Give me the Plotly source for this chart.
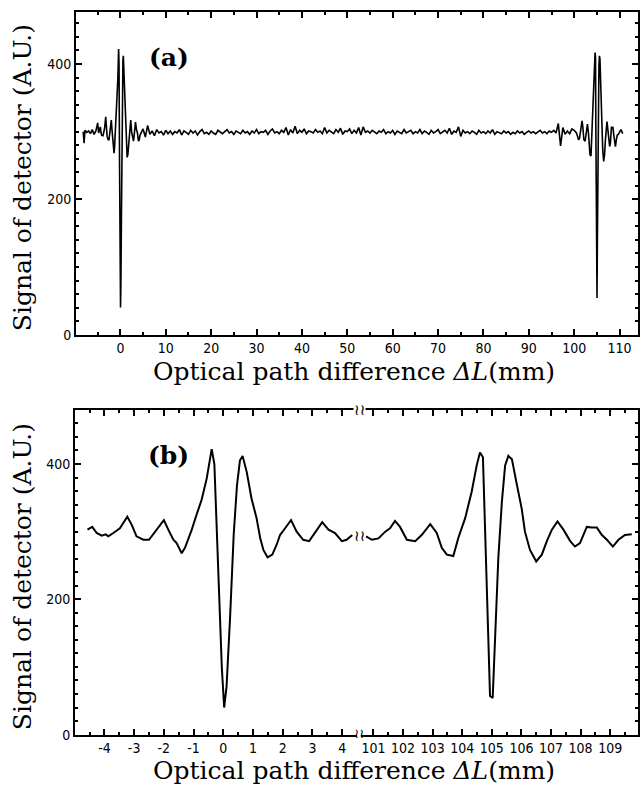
import numpy as np
import plotly.graph_objects as go

# ---------------- data ----------------
# zoomed interferogram around dL = 0 (panel b, left part)
zoom_left_x = [-4.57, -4.41, -4.26, -4.09, -3.96, -3.87, -3.70, -3.48, -3.23, -3.08,
               -2.92, -2.69, -2.50, -2.30, -2.00, -1.85, -1.68, -1.57, -1.40, -1.29,
               -1.06, -0.90, -0.73, -0.56, -0.39, -0.30, -0.17, -0.05, 0.03, 0.11,
               0.23, 0.35, 0.46, 0.56, 0.65, 0.79, 0.95, 1.12, 1.24, 1.35,
               1.49, 1.65, 1.80, 1.91, 2.08, 2.28, 2.47, 2.69, 2.89, 3.09,
               3.33, 3.54, 3.76, 3.99, 4.15, 4.34]
zoom_left_y = [303, 307, 298, 294, 296, 293, 298, 305, 322, 310,
               293, 288, 288, 300, 317, 303, 288, 283, 268, 276,
               303, 325, 347, 378, 422, 400, 240, 100, 40, 71,
               174, 295, 368, 405, 412, 388, 349, 320, 291, 273,
               262, 266, 281, 295, 305, 317, 300, 288, 286, 298,
               314, 303, 298, 286, 288, 295]

# zoomed interferogram around dL = 105 mm (panel b, right part)
zoom_right_x = [100.75, 100.95, 101.17, 101.40, 101.56, 101.73, 101.90, 102.13, 102.41, 102.63,
                102.92, 103.14, 103.31, 103.48, 103.70, 103.87, 104.10, 104.32, 104.49, 104.60,
                104.70, 104.77, 104.86, 104.94, 105.03, 105.11, 105.22, 105.34, 105.45, 105.56,
                105.68, 105.84, 106.01, 106.12, 106.29, 106.50, 106.69, 106.86, 107.03, 107.22,
                107.42, 107.65, 107.81, 107.98, 108.21, 108.38, 108.55, 108.72, 108.89, 109.09,
                109.28, 109.50, 109.73]
zoom_right_y = [293, 288, 290, 300, 305, 316, 307, 288, 286, 295,
                311, 298, 276, 266, 264, 291, 320, 359, 398, 417,
                410, 310, 164, 57, 54, 139, 261, 344, 398, 412,
                407, 371, 334, 300, 273, 256, 266, 286, 303, 315,
                303, 286, 278, 283, 307, 306, 306, 295, 288, 278,
                288, 295, 296]

# full scan (panel a): start, long flat middle, end
scan_start_x = [-8.2, -8.0, -7.8, -7.4, -7.0, -6.6, -6.2, -5.8, -5.4, -5.0, -4.8]
scan_start_y = [300, 283, 302, 299, 301, 297, 303, 296, 301, 313, 298]

scan_mid_x = list(np.arange(5.0, 100.75, 0.5))
scan_mid_y = [304, 292, 309, 296, 301, 294, 303, 298, 300, 295,
              302, 297, 301, 296, 300, 298, 303, 295, 301, 299,
              296, 302, 298, 301, 295, 300, 303, 297, 299, 296,
              301, 298, 296, 302, 299, 297, 300, 303, 298, 300,
              296, 301, 299, 297, 302, 298, 300, 296, 301, 298,
              303, 297, 300, 299, 302, 296, 301, 304, 298, 300,
              297, 302, 299, 306, 295, 303, 298, 308, 297, 302,
              299, 304, 297, 301, 300, 298, 303, 299, 301, 297,
              306, 298, 302, 300, 297, 303, 299, 305, 296, 301,
              300, 304, 297, 302, 298, 306, 295, 307, 299, 301,
              298, 302, 300, 297, 301, 299, 303, 297, 300, 298,
              302, 296, 301, 299, 297, 303, 298, 300, 302, 297,
              300, 298, 303, 297, 301, 299, 296, 302, 298, 300,
              303, 297, 300, 302, 298, 305, 296, 301, 299, 307,
              293, 302, 298, 300, 297, 301, 299, 296, 302, 298,
              300, 297, 301, 298, 303, 296, 300, 299, 297, 301,
              298, 300, 296, 299, 297, 301, 298, 300, 296, 299,
              301, 298, 300, 297, 299, 302, 298, 300, 297, 301,
              299, 302, 298, 312, 279, 306, 296, 301, 297, 304,
              302, 298]

scan_end_x = [110.0, 110.3, 110.7]
scan_end_y = [299, 303, 297]

top_xticks = [-10, 0, 10, 20, 30, 40, 50, 60, 70, 80, 90, 100, 110]
top_xlabels = ["-10", "0", "10", "20", "30", "40", "50", "60", "70", "80", "90", "100", "110"]
left_xticks = [-4, -3, -2, -1, 0, 1, 2, 3, 4]
left_xlabels = ["-4", "-3", "-2", "-1", "0", "1", "2", "3", "4"]
right_xticks = [101, 102, 103, 104, 105, 106, 107, 108, 109]
y_ticks = [0, 200, 400]

# ---------------- figure ----------------
W, H = 640, 803
def px(x):
    return x / W
def py(y):
    return 1 - y / H

full_x = scan_start_x + zoom_left_x + scan_mid_x + zoom_right_x + scan_end_x
full_y = scan_start_y + zoom_left_y + scan_mid_y + zoom_right_y + scan_end_y

fig = go.Figure()
fig.add_trace(go.Scatter(x=full_x, y=full_y, mode="lines",
                         line=dict(color="black", width=1.6), xaxis="x", yaxis="y",
                         showlegend=False, hoverinfo="skip"))
fig.add_trace(go.Scatter(x=zoom_left_x, y=zoom_left_y, mode="lines",
                         line=dict(color="black", width=2), xaxis="x2", yaxis="y2",
                         showlegend=False, hoverinfo="skip"))
fig.add_trace(go.Scatter(x=zoom_right_x, y=zoom_right_y, mode="lines",
                         line=dict(color="black", width=2), xaxis="x3", yaxis="y3",
                         showlegend=False, hoverinfo="skip"))

tick_font = dict(family="Liberation Sans Narrow, DejaVu Sans Condensed, Arial Narrow, sans-serif",
                 size=14, color="black")
common = dict(showline=True, linecolor="black", linewidth=2, ticks="inside",
              tickcolor="black", tickwidth=1.5, ticklen=6, showgrid=False,
              zeroline=False, tickfont=tick_font)
def minor(d):
    return dict(dtick=d, tick0=0, ticks="inside", ticklen=3, tickcolor="black", tickwidth=1.5)

fig.update_layout(
    width=W, height=H,
    margin=dict(l=0, r=0, t=0, b=0, pad=0),
    paper_bgcolor="white", plot_bgcolor="white",
    xaxis=dict(domain=[px(76), px(638)], range=[-9.78, 114.06], anchor="y",
               tickvals=top_xticks, ticktext=top_xlabels, mirror="ticks",
               minor=minor(5), **common),
    yaxis=dict(domain=[py(338), py(12)], range=[0, 477], anchor="x",
               tickvals=y_ticks, mirror="ticks", minor=minor(20), **common),
    xaxis2=dict(domain=[px(75), px(357)], range=[-4.99, 4.50], anchor="y2",
                tickvals=left_xticks, ticktext=left_xlabels, mirror="ticks",
                minor=minor(0.5), **common),
    yaxis2=dict(domain=[py(742), py(414)], range=[0, 480], anchor="x2",
                tickvals=y_ticks, minor=minor(20), **common),
    xaxis3=dict(domain=[px(361), px(638)], range=[100.58, 109.94], anchor="y3",
                tickvals=right_xticks, mirror="ticks", minor=minor(0.5), **common),
    yaxis3=dict(domain=[py(742), py(414)], range=[0, 480], anchor="x3",
                side="right", tickvals=y_ticks, showticklabels=False,
                minor=minor(20), **common),
)

serif = "DejaVu Serif, Liberation Serif, serif"
ann = []
xtitle = "Optical path difference <i>ΔL</i>(mm)"
ytitle = "Signal of detector (A.U.)"
ann.append(dict(x=px(354), y=py(375), text=xtitle, font=dict(family=serif, size=25, color="black")))
ann.append(dict(x=px(354), y=py(778), text=xtitle, font=dict(family=serif, size=25, color="black")))
ann.append(dict(x=px(22), y=py(180), text=ytitle, textangle=-90,
                font=dict(family=serif, size=25, color="black")))
ann.append(dict(x=px(22), y=py(583), text=ytitle, textangle=-90,
                font=dict(family=serif, size=25, color="black")))
ann.append(dict(x=px(169), y=py(58), text="<b>(a)</b>", font=dict(family=serif, size=25, color="black")))
ann.append(dict(x=px(168), y=py(460), text="<b>(b)</b>", font=dict(family=serif, size=25, color="black")))
# axis / curve break marks
brk_font = dict(family="DejaVu Sans, sans-serif", size=15, color="black")
ann.append(dict(x=px(359), y=py(541), text="≀≀", font=brk_font))
ann.append(dict(x=px(359), y=py(741), text="≀≀", font=dict(family="DejaVu Sans, sans-serif", size=13, color="black")))
ann.append(dict(x=px(359), y=py(414), text="≀≀", font=brk_font, bgcolor="white", borderpad=0))
for a in ann:
    a.update(xref="paper", yref="paper", showarrow=False, xanchor="center", yanchor="middle")
fig.update_layout(annotations=ann)

fig.write_html("out.html", config={"displayModeBar": False},
               post_script="document.body.style.margin='0px';document.body.style.overflow='hidden';")
